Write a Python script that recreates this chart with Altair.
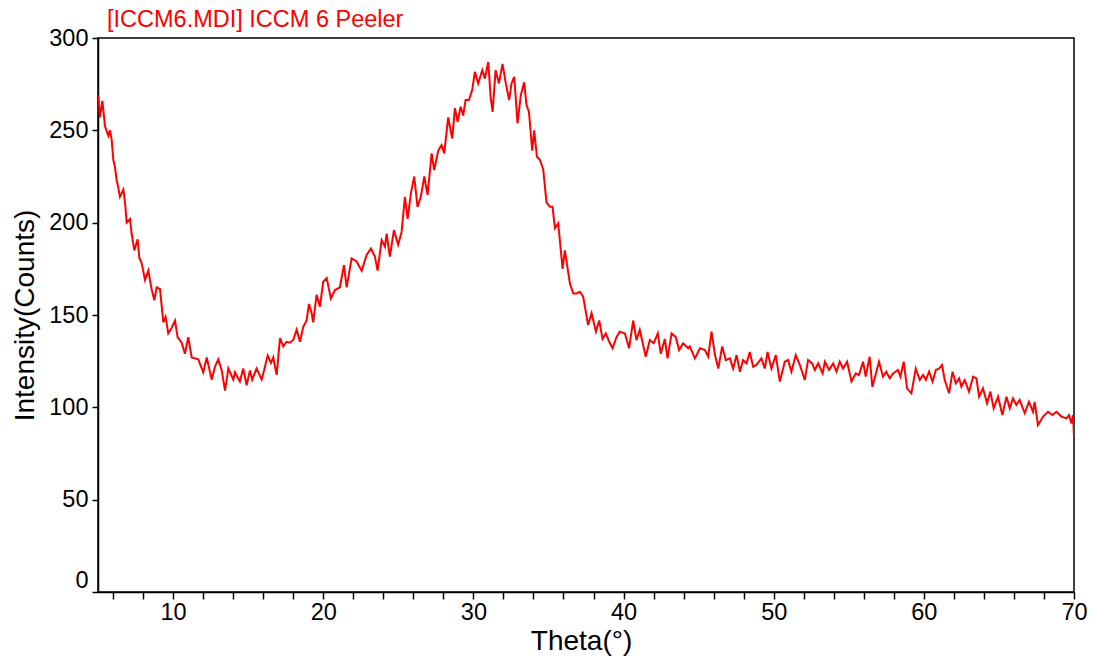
import altair as alt
import pandas as pd

theta = [5.02, 5.13, 5.29, 5.47, 5.69, 5.8, 5.91, 6.02, 6.13, 6.24, 6.35, 6.46, 6.69, 6.8, 6.91,
         7.13, 7.24, 7.42, 7.64, 7.75, 7.91, 8.13, 8.35, 8.57, 8.75, 8.91, 9.13, 9.35, 9.5, 9.68,
         9.9, 10.13, 10.3, 10.57, 10.79, 11.01, 11.24, 11.68, 12.01, 12.24, 12.57, 12.79, 13.01,
         13.24, 13.46, 13.68, 14.01, 14.12, 14.45, 14.67, 14.9,
         15.12, 15.27, 15.56, 15.9, 16.12, 16.3, 16.52, 16.67, 16.9, 17.12, 17.34, 17.56, 17.78,
         18.0, 18.23, 18.45, 18.67, 18.89, 19.05, 19.23, 19.33, 19.56, 19.78, 20.0, 20.23, 20.51,
         20.78, 21.11, 21.38, 21.56, 21.89, 22.22, 22.56, 22.89, 23.18, 23.44, 23.62, 23.89, 24.11,
         24.22, 24.44, 24.71,
         24.99, 25.22, 25.44, 25.62, 25.84, 26.06, 26.28, 26.5, 26.73, 26.95, 27.22, 27.39, 27.66,
         27.88, 28.06, 28.32, 28.59, 28.77, 28.95, 29.15, 29.32, 29.48, 29.7, 29.92, 30.1, 30.32,
         30.59, 30.77, 30.99, 31.15, 31.28, 31.48, 31.7, 31.94, 32.16, 32.38, 32.54, 32.72, 32.94,
         33.16, 33.38, 33.54, 33.7, 33.92, 34.05, 34.23,
         34.43, 34.65, 34.87, 35.09, 35.27, 35.43, 35.65, 35.94, 36.09, 36.43, 36.65, 36.87, 37.09,
         37.31, 37.64, 37.87, 38.16, 38.38, 38.6, 38.82, 39.05, 39.27, 39.53, 39.75, 40.09, 40.37,
         40.64, 40.86, 41.08, 41.48, 41.75, 42.01, 42.28, 42.48, 42.75, 42.93, 43.2, 43.48, 43.7,
         43.97, 44.3,
         44.41, 44.75, 45.09, 45.42, 45.64, 45.86, 46.09, 46.31, 46.57, 46.81, 47.08, 47.3, 47.53,
         47.75, 47.96, 48.19, 48.41, 48.63, 48.85, 49.18, 49.41, 49.59, 49.85, 50.14, 50.41, 50.74,
         50.96, 51.18, 51.47, 51.74, 52.07, 52.29, 52.56, 52.74, 52.96, 53.26, 53.41, 53.69, 53.96,
         54.18, 54.4, 54.62, 54.89, 55.18, 55.47, 55.68, 55.95, 56.13, 56.39, 56.57, 56.84, 57.01,
         57.28, 57.5, 57.73, 57.95, 58.28, 58.44, 58.66, 58.88, 59.17, 59.46, 59.73, 59.95, 60.13,
         60.35, 60.58, 60.8, 61.01, 61.21, 61.39, 61.68, 61.91, 62.13, 62.35, 62.5, 62.72, 63.01,
         63.28, 63.5, 63.68, 63.94, 64.21, 64.43, 64.65, 64.94, 65.23, 65.5, 65.72, 65.94, 66.16,
         66.38, 66.72, 67.0, 67.27, 67.38, 67.6, 67.94, 68.27, 68.56, 68.83, 69.16, 69.5, 69.67,
         69.83, 69.94, 70.0]

intensity = [269, 257, 266, 252, 247, 250, 245, 234, 230, 223, 219, 214, 218, 211, 200,
             202, 194, 185, 191, 181, 178, 169, 174, 164, 158, 165, 164, 146, 149, 140,
             143, 147, 138, 135, 129, 138, 127, 126, 119, 127, 115, 122, 126,
             120, 109, 121, 115, 119, 114, 121, 112,
             120, 115, 121, 115, 122, 128, 124, 127, 117.5, 137.5, 133, 135.5, 135,
             136.5, 142, 135.5, 143.6, 147, 156, 151, 146, 161, 154.5, 168, 170, 159,
             163.5, 165, 177, 165, 180.7, 179, 174, 182.5, 186, 181.6, 174, 190.6, 187,
             194, 181.6, 196,
             188, 195, 214, 202, 216, 225, 208.6, 214, 225, 215, 237.5, 228.5, 239,
             242, 237.5, 257, 245.6, 262, 254.6, 262.8, 258, 266.4, 266.4, 271.8, 281.7, 275.4,
             282.6, 278, 287, 268, 260, 282.6, 275.4, 286, 275.4, 266.4, 275.4, 279, 253.8,
             269, 276, 263.7, 260, 239, 250, 235.7,
             234, 229, 211, 208.6, 208.6, 197, 199.6, 175, 185, 167, 161.7, 161.7, 162.6,
             160, 144.6, 151, 141, 147, 137, 140, 135.5, 132, 138, 141, 140, 132,
             147, 136.4, 142, 127.4, 136.4, 134.7, 140, 129, 137, 126.5, 140, 138, 131,
             134.7, 132,
             133, 126.5, 132, 131, 127.4, 141, 128.3, 121, 133, 125.6, 126.5, 121, 128.3,
             119.3, 125.6, 123.8, 130, 122, 123, 126.5, 121, 130, 121, 128.3, 114, 124.7,
             125.6, 119.3, 128.3, 123, 114.8, 125.6, 123.8, 120.2, 123.8, 118.4, 124.7, 120.2, 123.8,
             119.3, 124.7, 121, 124.7, 114, 118.4, 117.5, 124.7, 116.6, 127.4, 111, 119.3, 124.7,
             116.6, 119.3, 115.7, 118.4, 120.2, 116.6, 124.7, 110.3, 107.6, 121, 114.8, 117.5, 114.8,
             119.3, 113.9, 120.2, 121, 122.9, 114.8, 107.6, 119.3, 113, 115.7, 111.2, 114.8, 108.5,
             116.6, 115.7, 105.8, 110.3, 102.2, 108.5, 99.5, 105.8, 95.8, 105.8, 99.5, 104.9, 101.3,
             104, 96.8, 103, 97.6, 103, 90.4, 95, 97.6, 95.8, 97.6, 95, 94, 95.8,
             91.3, 95.8, 84]

x_ticks = list(range(6, 71, 2))
y_ticks = [0, 50, 100, 150, 200, 250, 300]

df = pd.DataFrame({"theta": theta, "intensity": intensity})

FONT = "Liberation Sans"

chart = alt.Chart(df).mark_line(color="#ff0000", strokeWidth=2, clip=True).encode(
    x=alt.X("theta:Q",
            scale=alt.Scale(domain=[5, 70], nice=False, zero=False),
            axis=alt.Axis(values=x_ticks, title="Theta(°)",
                          labelExpr="datum.value % 10 == 0 ? datum.label : ''",
                          labelOverlap=False, labelFlush=False, grid=False,
                          tickSize=7, labelPadding=1, titlePadding=4, titleX=483)),
    y=alt.Y("intensity:Q",
            scale=alt.Scale(domain=[0, 300], nice=False),
            axis=alt.Axis(values=y_ticks, title="Intensity(Counts)", grid=False,
                          labelOverlap=False, labelFlush=False,
                          labelBaseline={"condition": {"test": "datum.value == 0", "value": "bottom"}, "value": "middle"},
                          tickSize=6, labelPadding=4, titlePadding=9)),
).properties(
    width=976, height=554,
    autosize=alt.AutoSizeParams(type="none"),
    padding={"left": 98, "top": 38, "right": 19, "bottom": 73},
    title=alt.TitleParams("[ICCM6.MDI] ICCM 6 Peeler", anchor="start", frame="group",
                          color="#ff0000", font=FONT, fontSize=23.5, fontWeight="normal",
                          dx=9, offset=8, dy=13),
).configure_view(
    stroke="black", strokeWidth=1.5
).configure_axis(
    domainColor="black", domainWidth=1.5, tickColor="black", tickWidth=1.5,
    labelFont=FONT, labelFontSize=23.5, labelColor="black",
    titleFont=FONT, titleFontSize=28, titleFontWeight="normal", titleColor="black"
)

chart.save("out.html", embed_options={"renderer": "svg", "actions": False})
